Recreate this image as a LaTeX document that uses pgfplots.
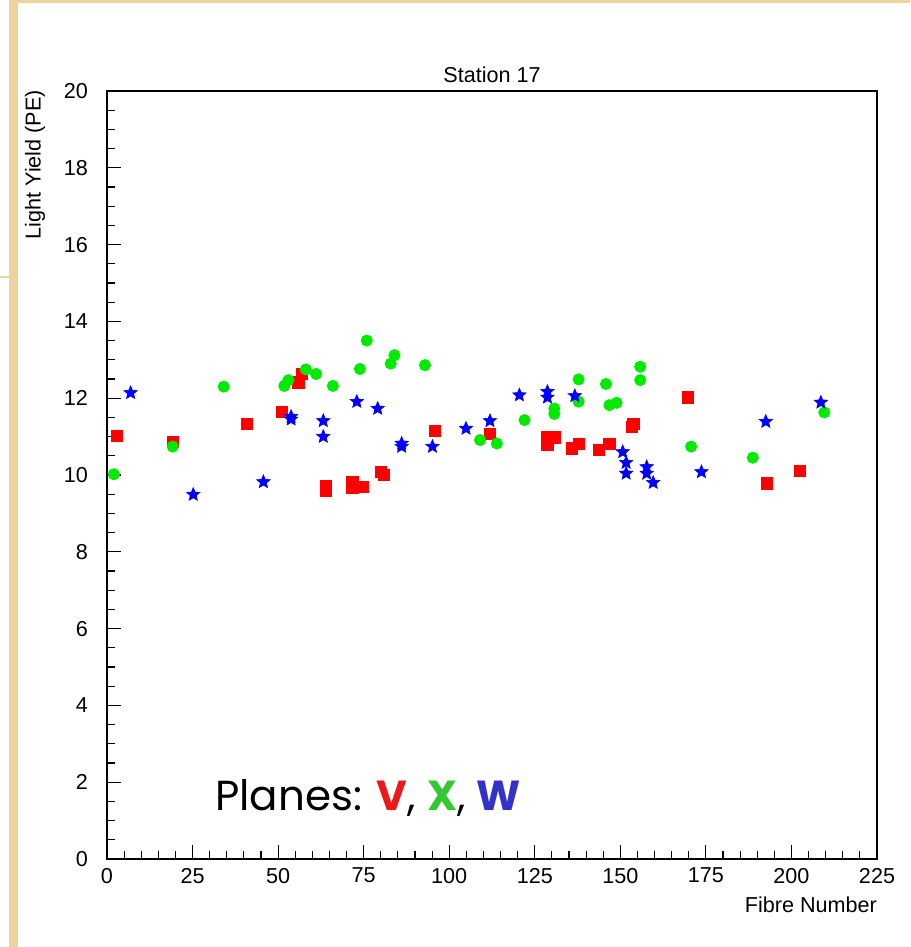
\documentclass[border=0pt]{standalone}
\usepackage{fontspec}
\setmainfont{Liberation Sans}
\newfontfamily\comicfont{Poppins}
\usepackage{pgfplots}
\pgfplotsset{compat=1.18}
\definecolor{beige}{RGB}{236,212,156}
\definecolor{mred}{RGB}{255,0,0}
\definecolor{mgreen}{RGB}{0,235,0}
\definecolor{mblue}{RGB}{0,0,255}
\definecolor{tred}{RGB}{235,25,25}
\definecolor{tgreen}{RGB}{50,200,50}
\definecolor{tblue}{RGB}{50,50,200}
\pgfdeclareplotmark{fstar}{%
  \pgfpathmoveto{\pgfpointpolar{90}{\pgfplotmarksize}}%
  \pgfpathlineto{\pgfpointpolar{126}{0.45\pgfplotmarksize}}%
  \pgfpathlineto{\pgfpointpolar{162}{\pgfplotmarksize}}%
  \pgfpathlineto{\pgfpointpolar{198}{0.45\pgfplotmarksize}}%
  \pgfpathlineto{\pgfpointpolar{234}{\pgfplotmarksize}}%
  \pgfpathlineto{\pgfpointpolar{270}{0.45\pgfplotmarksize}}%
  \pgfpathlineto{\pgfpointpolar{306}{\pgfplotmarksize}}%
  \pgfpathlineto{\pgfpointpolar{342}{0.45\pgfplotmarksize}}%
  \pgfpathlineto{\pgfpointpolar{18}{\pgfplotmarksize}}%
  \pgfpathlineto{\pgfpointpolar{54}{0.45\pgfplotmarksize}}%
  \pgfpathclose
  \pgfusepathqfillstroke
}
\begin{document}
\begin{tikzpicture}
\useasboundingbox (0,0) rectangle (455pt,473.5pt);
\fill[white] (0,0) rectangle (455pt,473.5pt);
\fill[beige] (4.5pt,0) rectangle (9pt,473.5pt);
\fill[beige] (4.5pt,472pt) rectangle (455pt,473.5pt);
\draw[beige, line width=0.6pt] (0,335pt) -- (4.5pt,335pt);
\begin{axis}[
  at={(53.5pt,44pt)}, anchor=south west,
  scale only axis, width=385pt, height=384pt,
  xmin=0, xmax=225, ymin=0, ymax=20,
  xtick={0,25,...,225}, ytick={0,2,...,20},
  minor x tick num=4, minor y tick num=3,
  tick align=inside, tick pos=left,
  major tick length=7pt, minor tick length=4pt,
  axis line style={line width=0.8pt},
  every tick/.style={black, line width=0.6pt},
  /pgf/number format/assume math mode=true,
  ticklabel style={font=\fontsize{10.8}{13}\selectfont},
  yticklabel style={xshift=-6pt},
  xticklabel style={yshift=-1pt},
  title={Station 17},
  title style={at={(axis description cs:0.5,1)}, anchor=center, yshift=2pt, font=\fontsize{10.8}{13}\selectfont},
  xlabel={Fibre Number},
  xlabel style={at={(axis description cs:1,0)}, anchor=east, yshift=-23pt, xshift=3.5pt, font=\fontsize{10.8}{13}\selectfont},
  ylabel={Light Yield (PE)},
  every axis y label/.style={at={(axis description cs:0,1)}, rotate=90, anchor=east, xshift=4pt, yshift=36pt, font=\fontsize{10.8}{13}\selectfont},
  clip=false,
]
% V plane (red squares)
\addplot[only marks, mark=square*, mark size=2.8pt, mark options={fill=mred, draw=mred}] coordinates {
(3.0,11.02) (19.2,10.86) (40.9,11.34) (51.0,11.64) (55.9,12.41) (56.9,12.64)
(64.0,9.72) (64.0,9.60) (71.7,9.83) (71.7,9.67) (74.8,9.69) (80.0,10.08) (81.0,10.00)
(95.9,11.15) (111.9,11.06) (128.7,11.00) (128.7,10.78) (130.9,10.98) (135.8,10.69)
(138.0,10.82) (143.7,10.66) (146.8,10.81) (153.3,11.26) (153.8,11.34) (169.8,12.02)
(192.8,9.78) (202.5,10.11)
};
% X plane (green circles)
\addplot[only marks, mark=*, mark size=2.8pt, mark options={fill=mgreen, draw=mgreen}] coordinates {
(2.0,10.02) (19.2,10.74) (34.1,12.30) (51.8,12.32) (53.0,12.47) (58.1,12.75)
(61.1,12.63) (66.0,12.32) (73.9,12.76) (75.9,13.50) (82.9,12.90) (84.0,13.12)
(92.9,12.86) (109.0,10.91) (113.9,10.82) (122.0,11.43) (130.7,11.73) (130.7,11.59)
(137.8,12.49) (137.8,11.91) (145.8,12.37) (146.8,11.82) (148.9,11.88) (155.8,12.82)
(155.8,12.47) (170.7,10.74) (188.7,10.45) (209.6,11.63)
};
% W plane (blue stars)
\addplot[only marks, mark=fstar, mark size=3.5pt, mark options={fill=mblue, draw=mblue, line width=0.3pt}] coordinates {
(6.9,12.14) (25.2,9.49) (45.7,9.82) (53.8,11.52) (53.8,11.45) (63.2,11.41) (63.2,11.00)
(73.0,11.91) (79.1,11.73) (86.1,10.82) (86.1,10.74) (95.1,10.74) (104.9,11.21)
(111.9,11.41) (120.5,12.08) (128.7,12.17) (128.7,12.02) (136.7,12.06) (150.7,10.60)
(151.7,10.32) (151.7,10.04) (157.7,10.21) (157.7,10.04) (159.6,9.80) (173.7,10.08)
(192.5,11.39) (208.6,11.89)
};
\node[anchor=base west, inner sep=0pt, font=\comicfont\fontsize{21}{25}\selectfont] at (rel axis cs:0.140,0.0625)
  {Planes: \textcolor{tred}{\bfseries V}, \textcolor{tgreen}{\bfseries X}, \textcolor{tblue}{\bfseries W}};
\end{axis}
\end{tikzpicture}
\end{document}
